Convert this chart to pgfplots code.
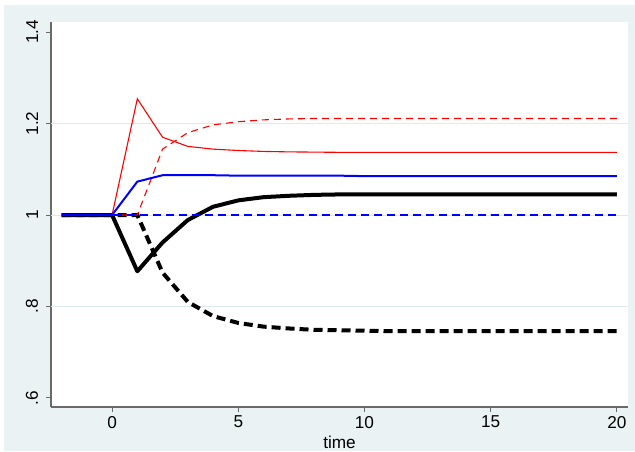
\documentclass[border=0pt]{standalone}
\usepackage{fontspec}
\setmainfont{Liberation Sans}
\usepackage{pgfplots}
\pgfplotsset{compat=1.18}
\definecolor{bgc}{RGB}{234,242,243}
\definecolor{gridc}{RGB}{222,233,236}
\definecolor{axc}{RGB}{105,105,105}
\pgfplotstableread{
t  rs     rd     bs     bd   ks     kd
-2 1      1      1      1    1      1
-1 1      1      1      1    1      1
0  1      1      1      1    1      1
1  1.254  1      1.073  1    0.877  1
2  1.170  1.144  1.087  1    0.940  0.874
3  1.150  1.180  1.087  1    0.989  0.810
4  1.144  1.197  1.087  1    1.018  0.779
5  1.141  1.204  1.086  1    1.032  0.764
6  1.139  1.208  1.086  1    1.039  0.756
7  1.138  1.210  1.086  1    1.042  0.752
8  1.1375 1.211  1.086  1    1.044  0.749
9  1.137  1.211  1.086  1    1.045  0.748
10 1.137  1.211  1.085  1    1.045  0.747
11 1.137  1.211  1.085  1    1.045  0.746
12 1.137  1.211  1.085  1    1.045  0.746
13 1.137  1.211  1.085  1    1.045  0.746
14 1.137  1.211  1.085  1    1.045  0.746
15 1.137  1.211  1.085  1    1.045  0.746
16 1.137  1.211  1.085  1    1.045  0.746
17 1.137  1.211  1.085  1    1.045  0.746
18 1.137  1.211  1.085  1    1.045  0.746
19 1.137  1.211  1.085  1    1.045  0.746
20 1.137  1.211  1.085  1    1.045  0.746
}\datatab
\begin{document}
\begin{tikzpicture}
\useasboundingbox (-25.5pt,-22pt) rectangle (292pt,203.5pt);
\fill[white] (-25.5pt,-22pt) rectangle (292pt,203.5pt);
\fill[bgc] (-23.5pt,-22pt) rectangle (292pt,201pt);
\begin{axis}[
  at={(0pt,0pt)}, anchor=south west,
  scale only axis, width=288.5pt, height=192.5pt,
  xmin=-2.42, xmax=20.44, ymin=0.5803, ymax=1.4219,
  axis background/.style={fill=white},
  axis x line*=bottom, axis y line*=left,
  axis line style={axc, line width=0.6pt, -},
  tick align=outside, major tick length=2.5pt,
  tick style={axc, line width=0.5pt},
  xtick={0,5,10,15,20}, xticklabels={0,5,10,15,20},
  ytick={0.6,0.8,1,1.2,1.4}, yticklabels={.6,.8,1,1.2,1.4},
  extra y ticks={0.8,1,1.2}, extra y tick labels={},
  extra y tick style={ymajorgrids=true, major tick length=0pt, grid style={gridc, line width=0.5pt}},
  every tick label/.append style={font=\fontsize{8.6}{10}\selectfont, text=black},
  yticklabel style={rotate=90, anchor=south, inner sep=3.8pt},
  xticklabel style={anchor=north, inner sep=1.8pt},
  xlabel={time},
  xlabel style={font=\fontsize{8.6}{10}\selectfont, at={(axis description cs:0.5,0)}, anchor=center, yshift=-17.5pt},
  clip=false,
]
\addplot[black, line width=2pt, line join=round] table[x=t,y=ks]{\datatab};
\addplot[black, line width=2pt, dash pattern=on 4.5pt off 2.5pt] table[x=t,y=kd]{\datatab};
\addplot[red, line width=0.55pt] table[x=t,y=rs]{\datatab};
\addplot[red, line width=0.55pt, dash pattern=on 3.5pt off 2.5pt] table[x=t,y=rd]{\datatab};
\addplot[blue, line width=1pt] table[x=t,y=bs]{\datatab};
\addplot[blue, line width=1pt, dash pattern=on 4pt off 2.5pt] table[x=t,y=bd]{\datatab};
\end{axis}
\end{tikzpicture}
\end{document}
